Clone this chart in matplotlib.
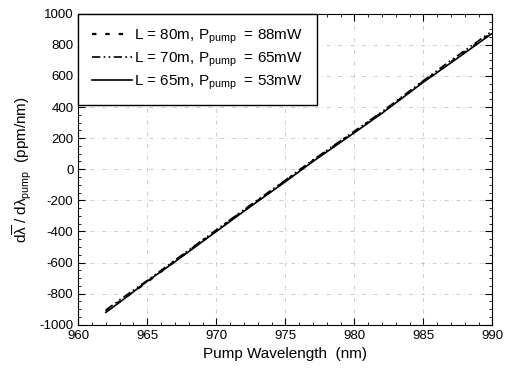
import numpy as np
import matplotlib
matplotlib.use('Agg')
import matplotlib.pyplot as plt
from matplotlib.ticker import MultipleLocator

plt.rcParams['font.family'] = ['Liberation Sans', 'DejaVu Sans']
plt.rcParams['mathtext.fontset'] = 'custom'
plt.rcParams['mathtext.rm'] = 'Liberation Sans'
plt.rcParams['mathtext.it'] = 'Liberation Sans'
plt.rcParams['axes.unicode_minus'] = False

# pump wavelength (nm)
wl = [962, 963, 965, 967, 970, 972, 975, 977, 980, 982, 985, 987, 990]
# d(lambda)/d(lambda_pump) in ppm/nm for each fibre length
s80 = [-915, -850, -725, -590, -395, -265, -75, 55, 240, 365, 565, 690, 880]
s70 = [-905, -840, -715, -585, -390, -260, -70, 60, 245, 370, 570, 700, 890]
s65 = [-920, -855, -720, -595, -400, -270, -80, 50, 235, 360, 560, 685, 875]

fig = plt.figure(figsize=(5.05, 3.72), dpi=100)
ax = fig.add_axes([0.155, 0.127, 0.82, 0.836])

ax.plot(wl, s80, color='black', linestyle=(0, (2, 4)), lw=1.6,
        label=r'L = 80m, P$_{pump}$  = 88mW')
ax.plot(wl, s70, color='black', linestyle=(0, (5, 2, 1, 2, 1, 2)), lw=1.2,
        label=r'L = 70m, P$_{pump}$  = 65mW')
ax.plot(wl, s65, color='black', linestyle='-', lw=1.2,
        label=r'L = 65m, P$_{pump}$  = 53mW')

ax.set_xlim(960, 990)
ax.set_ylim(-1000, 1000)
ax.xaxis.set_major_locator(MultipleLocator(5))
ax.xaxis.set_minor_locator(MultipleLocator(1))
ax.yaxis.set_major_locator(MultipleLocator(200))
ax.yaxis.set_minor_locator(MultipleLocator(50))
ax.tick_params(which='both', direction='in', top=True, right=True, labelsize=9.5)
ax.tick_params(which='major', length=5)
ax.tick_params(which='minor', length=2.5)
ax.grid(True, which='major', color='#777777', linestyle=(0, (6, 5, 1, 5)), lw=0.5, alpha=0.5)

ax.set_xlabel('Pump Wavelength  (nm)', fontsize=11)
ax.set_ylabel(r'd$\overline{\lambda}$ / d$\lambda_{pump}$  (ppm/nm)', fontsize=11)

leg = ax.legend(loc='upper left', fontsize=11, frameon=True, fancybox=False,
                borderaxespad=0, borderpad=0.9, handlelength=2.6, handletextpad=0.15,
                labelspacing=0.3)
leg.get_frame().set_edgecolor('black')
leg.get_frame().set_linewidth(1.0)
leg.get_frame().set_alpha(1)

fig.savefig('out.png', dpi=100)
